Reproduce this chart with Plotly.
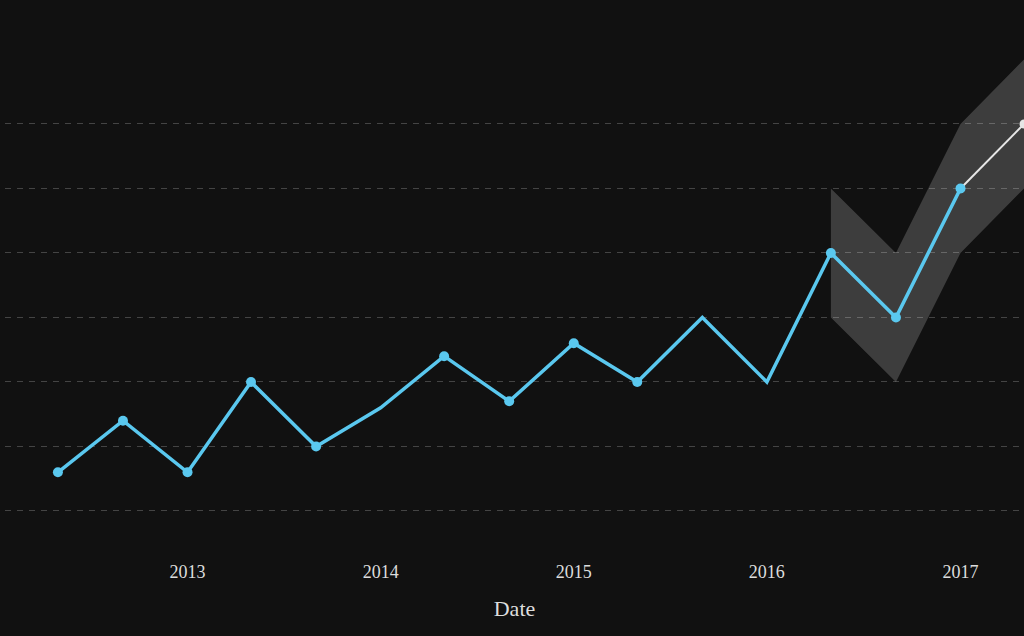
import plotly.graph_objects as go

# observed series (every 4 months)
dates = ["2012-05-01", "2012-09-01", "2013-01-01", "2013-05-01", "2013-09-01",
         "2014-01-01", "2014-05-01", "2014-09-01", "2015-01-01", "2015-05-01",
         "2015-09-01", "2016-01-01", "2016-05-01", "2016-09-01", "2017-01-01"]
values = [6, 14, 6, 20, 10, 16, 24, 17, 26, 20, 30, 20, 40, 30, 50]
marked = [True, True, True, True, True, False, True, True, True, True,
          False, False, True, True, True]

# forecast and its band
fc_dates = ["2017-01-01", "2017-05-01"]
fc_values = [50, 60]
band_dates = ["2016-05-01", "2016-09-01", "2017-01-01", "2017-05-01"]
band_upper = [50, 40, 60, 70]
band_lower = [30, 20, 40, 50]

blue = "#5ac8ef"

fig = go.Figure()

# confidence band
fig.add_trace(go.Scatter(
    x=band_dates + band_dates[::-1],
    y=band_upper + band_lower[::-1],
    fill="toself", fillcolor="rgba(255,255,255,0.19)",
    line=dict(width=0), mode="lines", hoverinfo="skip", showlegend=False,
))

# forecast line
fig.add_trace(go.Scatter(
    x=fc_dates, y=fc_values, mode="lines+markers",
    line=dict(color="#e6e6e6", width=2), marker=dict(size=9, color="#e6e6e6"),
    showlegend=False,
))

# observed line
fig.add_trace(go.Scatter(
    x=dates, y=values, mode="lines",
    line=dict(color=blue, width=3.5), showlegend=False,
))
fig.add_trace(go.Scatter(
    x=[d for d, m in zip(dates, marked) if m],
    y=[v for v, m in zip(values, marked) if m],
    mode="markers", marker=dict(size=10, color=blue), showlegend=False,
))

fig.update_layout(
    width=1024, height=636,
    paper_bgcolor="#111111", plot_bgcolor="#111111",
    margin=dict(l=5, r=0, t=0, b=80),
    font=dict(family="Liberation Serif, serif", color="#dddddd", size=18),
)
fig.update_xaxes(
    range=["2012-01-22", "2017-05-01"],
    tickvals=["2013-01-01", "2014-01-01", "2015-01-01", "2016-01-01", "2017-01-01"],
    ticktext=["2013", "2014", "2015", "2016", "2017"],
    showgrid=False, zeroline=False, showline=False, ticks="",
    ticklabelstandoff=3,
    title=dict(text="Date", standoff=19),
)
fig.update_yaxes(
    range=[-6.98, 79.22],
    tickvals=[0, 10, 20, 30, 40, 50, 60],
    showticklabels=False, zeroline=False, showline=False,
    gridcolor="#444444", griddash="6px,6px", gridwidth=1,
)

fig.write_html(
    "out.html",
    config={"displayModeBar": False},
    post_script="document.body.style.margin='0';document.body.style.background='#111111';",
)
